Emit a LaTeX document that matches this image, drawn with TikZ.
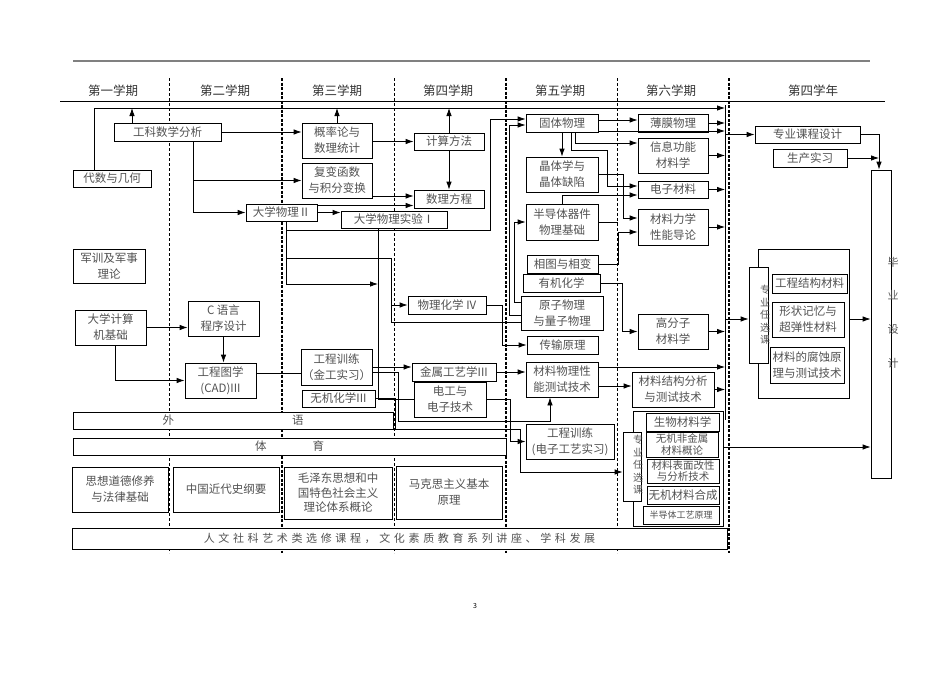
\documentclass[tikz,border=0pt]{standalone}
\usepackage{fontspec}
\setmainfont{Noto Sans CJK SC}
\usetikzlibrary{positioning, arrows.meta}

\begin{document}
\begin{tikzpicture}[x=1pt, y=-1pt,
  box/.style={draw, line width=0.8pt, fill=white, inner sep=0pt, align=center, text=black!68, font=\fontsize{11.5}{16}\selectfont},
  sz/.style 2 args={minimum width=#1, minimum height=#2},
  tight/.style={font=\fontsize{10.5}{11.5}\selectfont},
  arr/.style={line width=0.8pt, -{Latex[length=8pt,width=5.5pt]}},
  link/.style={line width=0.8pt},
  thinsep/.style={line width=0.8pt, dash pattern=on 3pt off 2pt},
  boldsep/.style={line width=1.6pt, dash pattern=on 3pt off 1.5pt},
  term/.style={text=black!80, font=\fontsize{12.5}{15}\selectfont},
  vtext/.style={text=black!65, align=center, inner sep=0pt}]

\useasboundingbox (0,0) rectangle (950,672);

% Rules
\draw[line width=1.4pt, gray] (73,61) -- (870,61);
\draw[line width=0.8pt] (60,101) -- (885,101);

% Term separators
\foreach \x in {169,394,617}
  \draw[thinsep] (\x,78) -- (\x,553);
\foreach \x in {282,506,729}
  \draw[boldsep] (\x,78) -- (\x,553);

% Terms
\node[term] (t1) at (113,91) {第一学期};
\node[term] (t2) at (225,91) {第二学期};
\node[term] (t3) at (337,91) {第三学期};
\node[term] (t4) at (448,91) {第四学期};
\node[term] (t5) at (560,91) {第五学期};
\node[term] (t6) at (671,91) {第六学期};
\node[term] (t7) at (813,91) {第四学年};

% First term
\node[box, sz={78}{17}] (dsjh) at (112,178.5) {代数与几何};
\node[box, sz={107}{18}] (gksx) at (167.5,132) {工科数学分析};
\node[box, sz={72}{34}] (jxll) at (109,266) {军训及军事\\理论};
\node[box, sz={71}{35}] (jsjj) at (110.5,327.5) {大学计算\\机基础};

% Second term
\node[box, sz={71}{35}] (cyy) at (223.5,318.5) {C 语言\\程序设计};
\node[box, sz={71}{35}] (gctx) at (220.5,380.5) {工程图学\\(CAD)III};

% Third term
\node[box, sz={70}{35}] (gltj) at (337,140.5) {概率论与\\数理统计};
\node[box, sz={70}{35}] (fbhs) at (337,180.5) {复变函数\\与积分变换};
\node[box, sz={71}{17}] (dxwl) at (281.5,212.5) {大学物理Ⅱ};
\node[box, sz={106}{17}] (wlsy) at (394,219.5) {大学物理实验Ⅰ};
\node[box, sz={71}{36}] (jgsx) at (336.5,367) {工程训练\\（金工实习）};
\node[box, sz={73}{17}] (wjhx) at (338.5,398.5) {无机化学III};

% Fourth term
\node[box, sz={70}{17}] (jsff) at (449,141.5) {计算方法};
\node[box, sz={70}{18}] (slfc) at (449,199) {数理方程};
\node[box, sz={78}{18}] (wlhx) at (447,305) {物理化学 IV};
\node[box, sz={84}{18}] (jsgy) at (454,372) {金属工艺学III};
\node[box, sz={72}{35}] (dgdz) at (450,399.5) {电工与\\电子技术};

% Fifth term
\node[box, sz={72}{18}] (gtwl) at (562,123) {固体物理};
\node[box, sz={72}{35}] (jtqx) at (562,174.5) {晶体学与\\晶体缺陷};
\node[box, sz={72}{36}] (bdtq) at (562,222) {半导体器件\\物理基础};
\node[box, sz={71}{18}] (xtxb) at (562.5,264) {相图与相变};
\node[box, sz={77}{18}] (yjhx) at (561.5,283) {有机化学};
\node[box, sz={82}{34}] (yzlz) at (562,313) {原子物理\\与量子物理};
\node[box, sz={71}{18}] (csyl) at (562.5,345) {传输原理};
\node[box, sz={72}{35}] (clxn) at (562,379.5) {材料物理性\\能测试技术};
\node[box, sz={88}{35}] (dzsx) at (570,441.5) {工程训练\\(电子工艺实习)};

% Sixth term
\node[box, sz={70}{18}] (bmwl) at (673,123) {薄膜物理};
\node[box, sz={70}{35}] (xxgn) at (673,155.5) {信息功能\\材料学};
\node[box, sz={70}{17}] (dzcl) at (673,189.5) {电子材料};
\node[box, sz={70}{36}] (lxxn) at (673,227) {材料力学\\性能导论};
\node[box, sz={70}{35}] (gfz) at (673,331.5) {高分子\\材料学};
\node[box, sz={82}{35}] (jgfx) at (673,389.5) {材料结构分析\\与测试技术};

% Lower electives
\node[box, sz={90}{115}] (lowgrp) at (678,468.5) {};
\node[box, sz={18}{69}] (lowsel) at (632,466.5) {};
\node[vtext, font=\fontsize{10}{12.5}\selectfont] (lowtxt) at (638,465) {专\\业\\任\\选\\课};
\node[box, sz={73}{18}] (swcl) at (682.5,422) {生物材料学};
\node[box, tight, sz={72}{25}] (fjsh) at (682,444.5) {无机非金属\\材料概论};
\node[box, tight, sz={72}{24}] (bmgx) at (683,471) {材料表面改性\\与分析技术};
\node[box, sz={72}{18}] (wjhc) at (683,495) {无机材料合成};
\node[box, sz={76}{18}, font=\fontsize{9}{11}\selectfont] (gyyl) at (681,515) {半导体工艺原理};

% Fourth year
\node[box, sz={105}{17}] (zysj) at (807.5,134.5) {专业课程设计};
\node[box, sz={74}{18}] (scsx) at (810,158) {生产实习};
\node[box, sz={91}{149}] (upgrp) at (803.5,323.5) {};
\node[box, sz={19}{96}] (upsel) at (758.5,315) {};
\node[vtext, font=\fontsize{10}{12.5}\selectfont] (uptxt) at (765,315) {专\\业\\任\\选\\课};
\node[box, sz={75}{19}] (gcjg) at (809.5,283.5) {工程结构材料};
\node[box, sz={72}{35}] (xzjy) at (808,319.5) {形状记忆与\\超弹性材料};
\node[box, sz={74}{36}] (fsyl) at (807,365) {材料的腐蚀原\\理与测试技术};
\node[box, sz={20}{308}] (bysj) at (881,324) {};
\node[vtext, font=\fontsize{11}{33.7}\selectfont] (bytxt) at (893,312.5) {毕\\业\\设\\计};

% Common courses
\node[box, sz={320}{17}] (wy) at (233,420.5) {外\hspace*{118pt}语};
\node[box, sz={433}{17}] (ty) at (289.5,446.5) {体\hspace*{46pt}育};
\node[box, sz={96}{45}] (sxdd) at (120,489.5) {思想道德修养\\与法律基础};
\node[box, sz={106}{45}] (zgjd) at (226,489.5) {中国近代史纲要};
\node[box, sz={108}{52}, font=\fontsize{11.5}{14.5}\selectfont] (mzd) at (338,493) {毛泽东思想和中\\国特色社会主义\\理论体系概论};
\node[box, sz={106}{53}] (mks) at (449,492.5) {马克思主义基本\\原理};
\node[box, sz={655}{21}, font=\fontsize{11}{13}\selectfont\addfontfeature{LetterSpace=33}] (rwsk) at (399.5,538.5) {人文社科艺术类选修课程，文化素质教育系列讲座、学科发展};

\node[font=\fontsize{7}{8}\selectfont] (pg) at (475,606) {3};

% Rails
\coordinate (rail) at (725,108);
\coordinate (bar) at (725,105);
\coordinate (barend) at (725,420);
\draw[link] (bar) -- (barend);
\draw[arr] ([xshift=-18]dsjh.north) |- (rail);
\draw[arr] ([xshift=-35.5]gksx.north) -- ([xshift=-35.5]gksx.north |- rail);
\draw[arr] (gltj.north) -- (gltj.north |- rail);
\draw[arr] (jsff.north) -- (jsff.north |- rail);
\draw[arr] (jsff) -- (slfc);

% Mathematics
\draw[arr] (gksx.east) -- (gksx.east -| gltj.west);
\draw[arr] ([xshift=25.5]gksx.south) |- (dxwl.west);
\draw[arr] ([xshift=25.5]gksx.south |- fbhs.west) -- (fbhs.west);
\draw[arr] (gltj.east |- jsff.west) -- (jsff.west);
\draw[arr] ([yshift=-15.5]fbhs.east) -- ([yshift=-15.5]fbhs.east -| slfc.west);
\draw[arr] ([yshift=7]dxwl.east) -- ([yshift=7]dxwl.east -| slfc.west);

% Physics
\draw[arr] (dxwl.east) -- (dxwl.east -| wlsy.west);
\draw[arr] ([xshift=4.5]dxwl.south) |- ([xshift=-16]wlsy.south |- 0,284);
\draw[link] ([xshift=-16]wlsy.south) |- (dgdz.west);
\draw[arr] ([xshift=4.5]dxwl.south |- 0,230) -- (490,230) |- ([yshift=4]gtwl.west);
\draw[link] ([xshift=4.5]dxwl.south |- 0,258) -| (391,322) -- ([yshift=-9]yzlz.west);
\draw[arr] (391,305) -- (wlhx.west);
\draw[arr] (wlhx.east) -- ++(16,0) |- (csyl.west);

% Atomic physics
\draw[arr] ([yshift=-2]yzlz.west) -- ++(-11,0) |- ([yshift=-2]gtwl.west);
\draw[arr] ([yshift=11]yzlz.west) -- ++(-6,0) |- (bdtq.west);

% Solid state
\draw[arr] (gtwl) -- (jtqx);
\draw[arr] ([yshift=3]gtwl.east) -- ([yshift=3]gtwl.east -| bmwl.west);
\draw[arr] ([yshift=-8]gtwl.east) -- ([yshift=-8]gtwl.east -| bar);
\draw[arr] ([xshift=13]gtwl.south) |- ([yshift=12.5]xxgn.west);
\draw[arr] ([xshift=9]gtwl.south) |- (607,150) |- ([yshift=3.5]dzcl.west);
\draw[arr] (bdtq.north) |- ([yshift=-5.5]dzcl.west);
\draw[arr] (jtqx.east) -- ++(25,0) |- ([yshift=9]lxxn.west);
\draw[link] (bdtq.east) -- ++(20,0);
\draw[arr] (xtxb.east) -- ++(20,0) |- ([yshift=-5]lxxn.west);
\draw[arr] (yjhx.east) -- ++(22,0) |- (gfz.west);

% Workshop and tests
\draw[link] ([yshift=7]gctx.east) -- ([yshift=7]gctx.east -| jgsx.west);
\draw[arr] (jgsx.east) -- (jgsx.east -| jsgy.west);
\draw[arr] ([yshift=-5]jgsx.east) -- (398,372) -- (398,421) -| ([xshift=-12]clxn.south);
\draw[arr] (jsgy.east) -- (jsgy.east -| clxn.west);
\draw[arr] ([yshift=12.5]clxn.east) -- ([yshift=12.5]clxn.east -| bar);
\draw[arr] ([yshift=-6.5]clxn.east) -- ([yshift=-6.5]clxn.east -| jgfx.west);
\draw[arr] (wjhx.east) -- (395,398.5) |- (520,429) |- ([yshift=-5.5]lowsel.west);
\draw[arr] (dgdz.east) -- ++(24,0) |- (dzsx.west);

% Computing
\draw[arr] (jsjj.east) -- (jsjj.east -| cyy.west);
\draw[arr] ([xshift=4.5]jsjj.south) |- (gctx.west);
\draw[arr] (cyy.south) -- (cyy.south |- gctx.north);

% Into the bar
\foreach \n in {bmwl,xxgn,dzcl,lxxn,gfz,jgfx}
  \draw[arr] (\n.east) -- (\n.east -| bar);

% Fourth year
\draw[arr] (zysj.west -| bar) -- (zysj.west);
\draw[arr] ([yshift=-4]upsel.west -| bar) -- ([yshift=-4]upsel.west);
\draw[arr] (zysj.east) -| ([xshift=-2]bysj.north);
\draw[arr] (scsx.east) -- ([xshift=-2]bysj.north |- scsx.east);
\draw[arr] ([yshift=4.5]upgrp.east) -- ([yshift=4.5]upgrp.east -| bysj.west);
\draw[arr] ([yshift=21.5]lowgrp.east) -- ([yshift=21.5]lowgrp.east -| bysj.west);

\end{tikzpicture}
\end{document}
